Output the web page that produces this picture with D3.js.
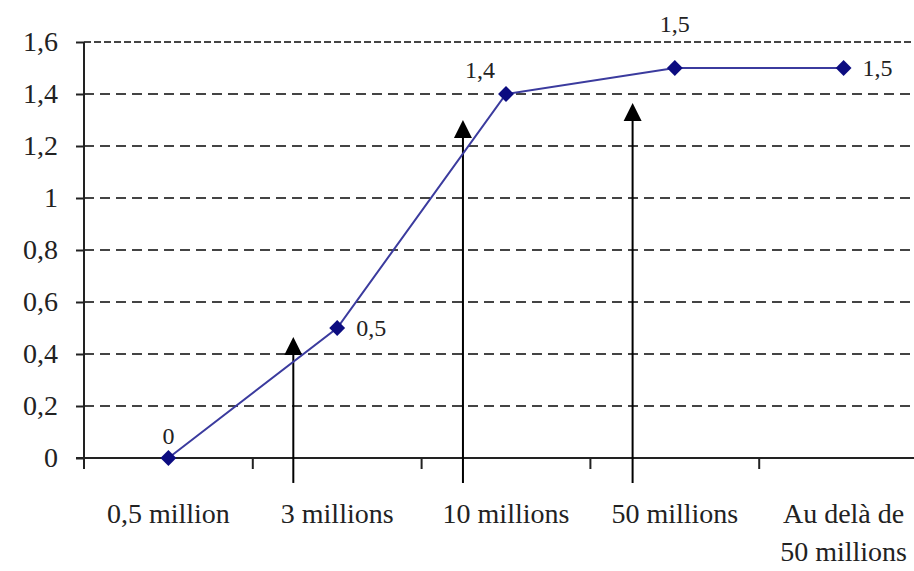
<!DOCTYPE html>
<html>
<head>
<meta charset="utf-8">
<script src="https://cdn.jsdelivr.net/npm/d3@7"></script>
<style>
  body { margin: 0; background: #fff; }
  svg text { font-family: "Times New Roman", Times, "Liberation Serif", serif; fill: #222; }
</style>
</head>
<body>
<div id="d3-container"></div>
<script>
/**
 * CONSTANTS AND GLOBALS
 * */
const width = 914,
  height = 571,
  margin = { top: 42, bottom: 113, left: 84, right: -14 };

// categories and values
const categories = ["0,5 million", "3 millions", "10 millions", "50 millions", "Au delà de\n50 millions"];
const values = [0, 0.5, 1.4, 1.5, 1.5];
const valueLabels = ["0", "0,5", "1,4", "1,5", "1,5"];
const labelPlace = ["above", "right", "aboveleft", "top", "right"];
const yTicks = [0, 0.2, 0.4, 0.6, 0.8, 1, 1.2, 1.4, 1.6];

// the three vertical arrows (x in category units from the left edge, tip in y units)
const arrowPos = [1.24, 2.245, 3.25];
const arrowTip = [0.465, 1.30, 1.365];
const arrowBase = -0.096;

const fmt = d => String(d).replace(".", ",");
const serif = "'Times New Roman', Times, 'Liberation Serif', serif";

const svg = d3.select("#d3-container")
  .append("svg")
  .attr("width", width)
  .attr("height", height)
  .style("font-family", serif);

// SCALES
const xScale = d3.scaleBand()
  .domain(categories)
  .range([margin.left, width - margin.right])
  .padding(0);

const xPos = d3.scaleLinear()
  .domain([0, categories.length])
  .range([margin.left, width - margin.right]);

const yScale = d3.scaleLinear()
  .domain([0, 1.6])
  .range([height - margin.bottom, margin.top]);

// GRIDLINES
svg.append("g")
  .selectAll("line")
  .data(yTicks.filter(d => d > 0))
  .join("line")
  .attr("x1", margin.left)
  .attr("x2", width)
  .attr("y1", d => yScale(d))
  .attr("y2", d => yScale(d))
  .attr("stroke", "#444")
  .attr("stroke-width", 2)
  .attr("stroke-dasharray", d => d === 1.6 ? "7,3" : "10,6");

// AXES
const yAxis = d3.axisLeft(yScale).tickValues(yTicks).tickSize(8).tickFormat(fmt);
svg.append("g")
  .attr("transform", `translate(${margin.left},0)`)
  .call(yAxis)
  .attr("font-family", serif)
  .call(g => g.select(".domain").attr("stroke", "#222").attr("stroke-width", 2).attr("d", `M0,${yScale(1.6)}V${yScale(0)}`))
  .call(g => g.selectAll(".tick line").attr("stroke", "#222").attr("stroke-width", 2))
  .call(g => g.selectAll(".tick text")
    .attr("x", -26)
    .style("font-size", "28px")
    .attr("fill", "#222"));

// x axis: ticks at band boundaries
const xAxisG = svg.append("g").attr("transform", `translate(0,${yScale(0)})`);
xAxisG.append("line")
  .attr("x1", margin.left - 8)
  .attr("x2", width)
  .attr("stroke", "#222")
  .attr("stroke-width", 2);
xAxisG.selectAll("line.tk")
  .data(d3.range(0, categories.length + 1))
  .join("line")
  .attr("class", "tk")
  .attr("x1", d => xPos(d))
  .attr("x2", d => xPos(d))
  .attr("y1", 0)
  .attr("y2", 11)
  .attr("stroke", "#222")
  .attr("stroke-width", 2);

// category labels
svg.append("g")
  .selectAll("text")
  .data(categories)
  .join("text")
  .attr("x", d => xScale(d) + xScale.bandwidth() / 2)
  .attr("y", 523)
  .attr("text-anchor", "middle")
  .style("font-size", "28px")
  .each(function (d) {
    const lines = d.split("\n");
    d3.select(this).selectAll("tspan")
      .data(lines)
      .join("tspan")
      .attr("x", xScale(d) + xScale.bandwidth() / 2)
      .attr("dy", (l, i) => i === 0 ? 0 : 38)
      .text(l => l);
  });

// ARROWS
const arrows = svg.append("g");
arrows.selectAll("line")
  .data(arrowPos)
  .join("line")
  .attr("x1", d => xPos(d))
  .attr("x2", d => xPos(d))
  .attr("y1", yScale(arrowBase))
  .attr("y2", (d, i) => yScale(arrowTip[i]) + 14)
  .attr("stroke", "#000")
  .attr("stroke-width", 2);
arrows.selectAll("path")
  .data(arrowPos)
  .join("path")
  .attr("d", (d, i) => {
    const x = xPos(d), y = yScale(arrowTip[i]);
    return `M${x},${y}L${x - 9},${y + 18}L${x + 9},${y + 18}Z`;
  })
  .attr("fill", "#000");

// LINE
const pts = categories.map((c, i) => ({ c, v: values[i], label: valueLabels[i], place: labelPlace[i] }));
const cx = d => xScale(d.c) + xScale.bandwidth() / 2;
const lineFunc = d3.line()
  .x(cx)
  .y(d => yScale(d.v));

svg.append("path")
  .datum(pts)
  .attr("d", lineFunc)
  .attr("fill", "none")
  .attr("stroke", "#3b3b9e")
  .attr("stroke-width", 2);

svg.append("g")
  .selectAll("path")
  .data(pts)
  .join("path")
  .attr("transform", d => `translate(${cx(d)},${yScale(d.v)})`)
  .attr("d", d3.symbol(d3.symbolDiamond2, 160))
  .attr("fill", "#0c0c80");

// value labels
const dx = { above: 0, aboveleft: -26, top: 0, right: 19 };
const dy = { above: -14, aboveleft: -16, top: -36, right: 8 };
svg.append("g")
  .selectAll("text")
  .data(pts)
  .join("text")
  .attr("x", d => cx(d) + dx[d.place])
  .attr("y", d => yScale(d.v) + dy[d.place])
  .attr("text-anchor", d => d.place === "right" ? "start" : "middle")
  .style("font-size", "24px")
  .text(d => d.label);
</script>
</body>
</html>
